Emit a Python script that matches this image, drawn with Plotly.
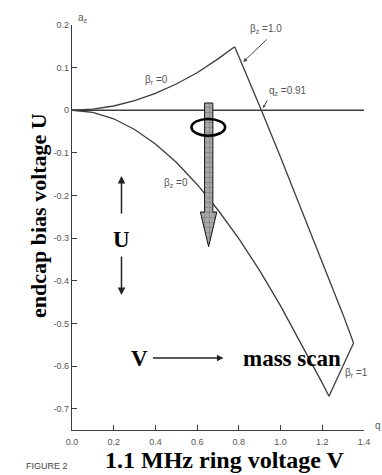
import plotly.graph_objects as go

# ---- data (q_z, a_z) ----
beta_r0_q = [0.0, 0.1, 0.2, 0.3, 0.4, 0.5, 0.6, 0.7, 0.78]
beta_r0_a = [0.0, 0.0025, 0.010, 0.0224, 0.0396, 0.0615, 0.088, 0.1205, 0.149]

beta_z1_q = [0.78, 0.85, 0.908, 1.0, 1.1, 1.2, 1.3, 1.35]
beta_z1_a = [0.149, 0.069, 0.0, -0.110, -0.232, -0.355, -0.480, -0.546]

beta_z0_q = [0.0, 0.1, 0.2, 0.3, 0.4, 0.5, 0.6, 0.7, 0.8, 0.9, 1.0, 1.1, 1.2, 1.232]
beta_z0_a = [0.0, -0.005, -0.020, -0.045, -0.079, -0.122, -0.174, -0.234, -0.301,
             -0.376, -0.459, -0.548, -0.640, -0.671]

beta_r1_q = [1.35, 1.29, 1.232]
beta_r1_a = [-0.546, -0.609, -0.671]

zero_q = [0.0, 1.4]
zero_a = [0.0, 0.0]

x_ticks = [0.0, 0.2, 0.4, 0.6, 0.8, 1.0, 1.2, 1.4]
x_tick_labels = ["0.0", "0.2", "0.4", "0.6", "0.8", "1.0", "1.2", "1.4"]
y_ticks = [0.2, 0.1, 0.0, -0.1, -0.2, -0.3, -0.4, -0.5, -0.6, -0.7]
y_tick_labels = ["0.2", "0.1", "0", "-0.1", "-0.2", "-0.3", "-0.4", "-0.5", "-0.6", "-0.7"]

# ---- layout geometry ----
W, H = 382, 475
L, R, T, B = 72, 15, 25, 45
XR = [0.0, 1.4]
YR = [-0.75, 0.2]
PW, PH = W - L - R, H - T - B


def qx(px):
    return XR[0] + (px - L) / PW * (XR[1] - XR[0])


def ay(py):
    return YR[1] - (py - T) / PH * (YR[1] - YR[0])


def paper_x(px):
    return (px - L) / PW


def paper_y(py):
    return (H - B - py) / PH


LINE = "#3c3c3c"
SERIF = "Liberation Serif, Times New Roman, serif"
SANS = "Liberation Sans, Arial, sans-serif"

fig = go.Figure()
for qs, as_ in [(beta_r0_q, beta_r0_a), (beta_z1_q, beta_z1_a),
                (beta_z0_q, beta_z0_a), (beta_r1_q, beta_r1_a), (zero_q, zero_a)]:
    fig.add_trace(go.Scatter(x=qs, y=as_, mode="lines",
                             line=dict(color=LINE, width=1.3),
                             hoverinfo="skip", showlegend=False))

# hatched downward arrow
sx0, sx1 = qx(206), qx(214.3)
hx0, hx1, tx = qx(201.7), qx(218.3), qx(210)
ytop, yshaft, ytip = ay(103), ay(212), ay(246.7)
fig.add_trace(go.Scatter(
    x=[sx0, sx1, sx1, hx1, tx, hx0, sx0, sx0],
    y=[ytop, ytop, yshaft, yshaft, ytip, yshaft, yshaft, ytop],
    mode="lines", fill="toself", fillcolor="#9a9a9a",
    fillpattern=dict(shape="+", bgcolor="#a8a8a8", fgcolor="#555555", size=5, solidity=0.25),
    line=dict(color="#111111", width=1), hoverinfo="skip", showlegend=False))

# ellipse
fig.add_shape(type="circle", xref="x", yref="y",
              x0=qx(192.7), x1=qx(226.7), y0=ay(119), y1=ay(135.7),
              line=dict(color="black", width=2.6))

ann = []
small = dict(family=SANS, size=10, color="#555555")
ann.append(dict(x=qx(157), y=ay(80), text="β<sub>r</sub> =0", showarrow=False, font=small))
ann.append(dict(x=qx(268), y=ay(29), text="β<sub>z</sub> =1.0", showarrow=False, font=small))
ann.append(dict(x=qx(245), y=ay(62), ax=25, ay=-24, text="", showarrow=True,
                arrowhead=2, arrowsize=0.8, arrowwidth=1, arrowcolor="#444"))
ann.append(dict(x=qx(290), y=ay(91), text="q<sub>z</sub> =0.91", showarrow=False, font=small))
ann.append(dict(x=qx(265), y=ay(108), ax=5, ay=-9, text="", showarrow=True,
                arrowhead=2, arrowsize=0.6, arrowwidth=1, arrowcolor="#444"))
ann.append(dict(x=qx(177), y=ay(183), text="β<sub>z</sub> =0", showarrow=False, font=small))
ann.append(dict(x=qx(359), y=ay(373), text="β<sub>r</sub> =1", showarrow=False, font=small))
ann.append(dict(x=paper_x(76), y=paper_y(10), xref="paper", yref="paper",
                text="a<sub>z</sub>", showarrow=False, font=small))
ann.append(dict(x=paper_x(376), y=paper_y(433), xref="paper", yref="paper",
                text="q", showarrow=False, font=small, xanchor="left"))

big = dict(family=SERIF, size=23, color="black")
ann.append(dict(x=qx(122), y=ay(239), text="<b>U</b>", showarrow=False, font=big))
ann.append(dict(x=qx(122), y=ay(176), ax=0, ay=39, text="", showarrow=True,
                arrowhead=2, arrowsize=1, arrowwidth=1.5, arrowcolor="#222"))
ann.append(dict(x=qx(122), y=ay(295), ax=0, ay=-40, text="", showarrow=True,
                arrowhead=2, arrowsize=1, arrowwidth=1.5, arrowcolor="#222"))
ann.append(dict(x=qx(140), y=ay(358), text="<b>V</b>", showarrow=False, font=big))
ann.append(dict(x=qx(225), y=ay(358), ax=-72, ay=0, text="", showarrow=True,
                arrowhead=2, arrowsize=1, arrowwidth=1.3, arrowcolor="#222"))
ann.append(dict(x=qx(294), y=ay(358), text="<b>mass scan</b>", showarrow=False, font=big))

ann.append(dict(x=paper_x(227), y=paper_y(475), xref="paper", yref="paper",
                text="<b>1.1 MHz ring voltage V</b>", showarrow=False,
                font=dict(family=SERIF, size=24, color="black")))
ann.append(dict(x=paper_x(23), y=paper_y(215), xref="paper", yref="paper",
                text="<b>endcap bias voltage U</b>", showarrow=False, textangle=-90,
                font=dict(family=SERIF, size=22, color="black")))
ann.append(dict(x=paper_x(24), y=paper_y(473), xref="paper", yref="paper",
                text="FIGURE 2", showarrow=False,
                font=dict(family=SANS, size=9, color="#444")))

fig.update_layout(
    width=W, height=H, margin=dict(l=L, r=R, t=T, b=B),
    paper_bgcolor="white", plot_bgcolor="white",
    annotations=ann,
    xaxis=dict(range=XR, tickvals=x_ticks, ticktext=x_tick_labels,
               showgrid=False, zeroline=False, showline=True, linecolor=LINE,
               linewidth=1.2, ticks="inside", ticklen=5, tickcolor=LINE,
               ticklabelstandoff=3,
               tickfont=dict(family=SANS, size=9, color="#555")),
    yaxis=dict(range=YR, tickvals=y_ticks, ticktext=y_tick_labels,
               showgrid=False, zeroline=False, showline=True, linecolor=LINE,
               linewidth=1.2, ticks="inside", ticklen=5, tickcolor=LINE,
               tickfont=dict(family=SANS, size=9, color="#555")),
)

fig.write_html("out.html", config={"displayModeBar": False},
               post_script="document.body.style.margin='0px';document.body.style.overflow='hidden';")
